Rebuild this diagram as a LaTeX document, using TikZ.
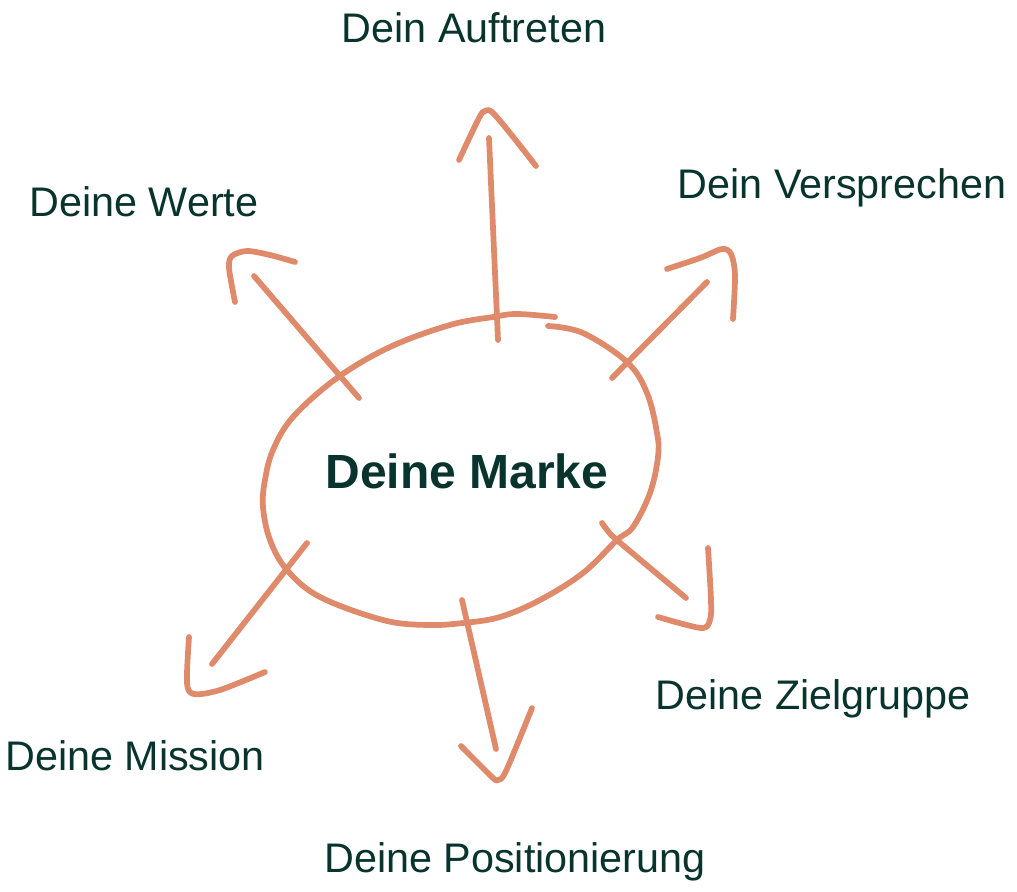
\documentclass[tikz,border=0pt]{standalone}
\usepackage{fontspec}
\setmainfont{Liberation Sans}
\usepackage{tikz}
\usepackage{xcolor}
\usetikzlibrary{arrows.meta,positioning,calc}
\definecolor{markeGreen}{RGB}{8,52,45}
\definecolor{markeSalmon}{RGB}{222,138,107}

\begin{document}
\begin{tikzpicture}[
  x=0.75pt, y=-0.75pt,
  lbl/.style={anchor=base, inner sep=0pt, text=markeGreen,
              font=\fontsize{31}{37}\selectfont},
  brand/.style={anchor=base, inner sep=0pt, text=markeGreen,
                font=\fontsize{36}{42}\selectfont\bfseries},
  stroke/.style={draw=markeSalmon, line width=4.3pt, line cap=round,
                 line join=round}
]
  \useasboundingbox (0,0) rectangle (1017,892);

  % the brand blob in the middle
  \draw[stroke] plot[smooth, tension=0.6] coordinates {
    (548,326) (583,333) (627,362) (647,393) (657,433) (658,457)
    (650,493) (633,527) (617,540) (583,573) (540,600) (500,617)
    (463,623) (427,625) (383,620) (320,597) (287,570) (270,540)
    (263,507) (265,480) (273,450) (293,417) (337,378) (390,347)
    (450,325) (493,317) (517,314) (555,317)};

  \node[brand] (mar)  at (467,488) {Deine Marke};

  % labels around it
  \node[lbl]   (auf)  at (474,43)  {Dein Auftreten};
  \node[lbl]   (ver)  at (842,198) {Dein Versprechen};
  \node[lbl]   (wer)  at (144,216) {Deine Werte};
  \node[lbl]   (ziel) at (813,709) {Deine Zielgruppe};
  \node[lbl]   (mis)  at (135,770) {Deine Mission};
  \node[lbl]   (pos)  at (515,872) {Deine Positionierung};

  % arrows: shaft, then a hand-drawn head
  \draw[stroke] (498,340) -- (489,138);
  \draw[stroke] plot[smooth, tension=0.5] coordinates {
    (459,160) (479,118) (485,111) (492,112) (510,133) (536,166)};

  \draw[stroke] (359,398) -- (254,276);
  \draw[stroke] plot[smooth, tension=0.5] coordinates {
    (235,302) (229,268) (232,256) (247,251) (270,255) (295,262)};

  \draw[stroke] (612,378) -- (707,282);
  \draw[stroke] plot[smooth, tension=0.5] coordinates {
    (667,269) (700,258) (722,249) (731,254) (735,275) (733,319)};

  \draw[stroke] (307,543) -- (212,664);
  \draw[stroke] plot[smooth, tension=0.5] coordinates {
    (189,637) (187,683) (194,694) (220,690) (265,672)};

  \draw[stroke] plot[smooth, tension=0.5] coordinates {
    (602,523) (608,531) (618,541) (686,598)};
  \draw[stroke] plot[smooth, tension=0.5] coordinates {
    (708,548) (711,600) (710,620) (701,628) (658,617)};

  \draw[stroke] (462,600) -- (496,749);
  \draw[stroke] plot[smooth, tension=0.5] coordinates {
    (461,746) (492,777) (498,780) (506,771) (532,708)};
\end{tikzpicture}
\end{document}
